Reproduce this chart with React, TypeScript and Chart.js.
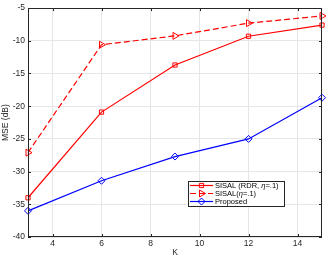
import React, { useEffect, useRef } from 'react';
import { Chart, registerables } from 'chart.js';
import { drawPoint } from 'chart.js/helpers';
Chart.register(...registerables);

const K = [3, 6, 9, 12, 15];
const rdr = [-34.0, -20.9, -13.7, -9.3, -7.6];
const sisal = [-27.1, -10.6, -9.25, -7.3, -6.2];
const proposed = [-36.0, -31.4, -27.7, -25.0, -18.7];
const xTicks = [4, 6, 8, 10, 12, 14];
const yTicks = [-40, -35, -30, -25, -20, -15, -10, -5];
const seriesNames = ['SISAL (RDR, ', 'SISAL(', 'Proposed'];
const etaSuffix = ['=.1)', '=.1)', ''];
const xTitle = 'K';
const yTitle = 'MSE (dB)';

const FONT = "'Liberation Sans', Arial, sans-serif";
const AX = '#262626';

export default function App() {
  const ref = useRef<HTMLCanvasElement | null>(null);
  useEffect(() => {
    document.body.style.margin = '0';
    const canvas = ref.current!;
    const overlay = {
      id: 'overlay',
      afterDraw(chart: any) {
        const ctx = chart.ctx as CanvasRenderingContext2D;
        const a = chart.chartArea;
        const xs = chart.scales.x;
        const ys = chart.scales.y;
        ctx.save();
        // box
        ctx.strokeStyle = AX;
        ctx.lineWidth = 1;
        ctx.strokeRect(Math.round(a.left) + 0.5, Math.round(a.top) + 0.5, Math.round(a.right - a.left) - 1, Math.round(a.bottom - a.top) - 1);
        ctx.beginPath();
        for (const v of xTicks) {
          const px = Math.round(xs.getPixelForValue(v)) + 0.5;
          ctx.moveTo(px, a.bottom); ctx.lineTo(px, a.bottom - 3);
          ctx.moveTo(px, a.top); ctx.lineTo(px, a.top + 3);
        }
        for (const v of yTicks) {
          const py = Math.round(ys.getPixelForValue(v)) + 0.5;
          ctx.moveTo(a.left, py); ctx.lineTo(a.left + 3, py);
          ctx.moveTo(a.right, py); ctx.lineTo(a.right - 3, py);
        }
        ctx.stroke();
        // titles
        ctx.fillStyle = AX;
        ctx.font = `8.5px ${FONT}`;
        ctx.textAlign = 'center';
        ctx.textBaseline = 'middle';
        ctx.fillText(xTitle, (a.left + a.right) / 2, 253);
        ctx.save();
        ctx.translate(6, (a.top + a.bottom) / 2);
        ctx.rotate(-Math.PI / 2);
        ctx.fillText(yTitle, 0, 0);
        ctx.restore();
        // legend
        const lx = 188, ly = 181, lw = 96, lh = 25;
        ctx.fillStyle = '#ffffff';
        ctx.fillRect(lx, ly, lw, lh);
        ctx.strokeStyle = AX;
        ctx.strokeRect(lx + 0.5, ly + 0.5, lw, lh);
        const rowsY = [185.5, 193.5, 201.5];
        chart.data.datasets.forEach((ds: any, i: number) => {
          const y = rowsY[i];
          ctx.strokeStyle = ds.borderColor;
          ctx.lineWidth = ds.borderWidth;
          ctx.setLineDash(ds.borderDash || []);
          ctx.beginPath();
          ctx.moveTo(lx + 2, y); ctx.lineTo(lx + 25, y);
          ctx.stroke();
          ctx.setLineDash([]);
          ctx.fillStyle = 'rgba(0,0,0,0)';
          ctx.strokeStyle = ds.pointBorderColor;
          ctx.lineWidth = 1;
          drawPoint(ctx, {
            pointStyle: ds.pointStyle, rotation: ds.pointRotation || 0,
            radius: ds.pointRadius, borderWidth: 1,
          } as any, lx + 13.5, y);
          ctx.fillStyle = '#000000';
          ctx.textAlign = 'left';
          ctx.textBaseline = 'middle';
          ctx.font = `7.5px ${FONT}`;
          let tx = lx + 27;
          ctx.fillText(seriesNames[i], tx, y);
          tx += ctx.measureText(seriesNames[i]).width;
          if (etaSuffix[i]) {
            ctx.font = `italic 7.5px ${FONT}`;
            ctx.fillText('η', tx, y);
            tx += ctx.measureText('η').width;
            ctx.font = `7.5px ${FONT}`;
            ctx.fillText(etaSuffix[i], tx, y);
          }
        });
        ctx.restore();
      },
    };
    const chart = new Chart(canvas, {
      type: 'line',
      data: {
        datasets: [
          {
            label: 'SISAL (RDR, η=.1)',
            data: K.map((k, i) => ({ x: k, y: rdr[i] })),
            borderColor: '#ff0000', backgroundColor: 'rgba(0,0,0,0)',
            borderWidth: 1.2, pointStyle: 'rect', pointRadius: 3, clip: false,
            pointBorderColor: '#ff0000', pointBackgroundColor: 'rgba(0,0,0,0)', pointBorderWidth: 1,
          },
          {
            label: 'SISAL(η=.1)',
            data: K.map((k, i) => ({ x: k, y: sisal[i] })),
            borderColor: '#ff0000', backgroundColor: 'rgba(0,0,0,0)', clip: false,
            borderWidth: 1.2, borderDash: [6, 3], pointStyle: 'triangle', pointRotation: 90, pointRadius: 4,
            pointBorderColor: '#ff0000', pointBackgroundColor: 'rgba(0,0,0,0)', pointBorderWidth: 1,
          },
          {
            label: 'Proposed',
            data: K.map((k, i) => ({ x: k, y: proposed[i] })),
            borderColor: '#0000ff', backgroundColor: 'rgba(0,0,0,0)', clip: false,
            borderWidth: 1.2, pointStyle: 'rectRot', pointRadius: 3.5,
            pointBorderColor: '#0000ff', pointBackgroundColor: 'rgba(0,0,0,0)', pointBorderWidth: 1,
          },
        ],
      },
      options: {
        responsive: false,
        animation: false,
        layout: { padding: { left: 0, top: 4, right: 5, bottom: 0 } },
        plugins: { legend: { display: false }, tooltip: { enabled: false } },
        scales: {
          x: {
            type: 'linear', min: 3, max: 15,
            afterBuildTicks: (s: any) => { s.ticks = xTicks.map((v) => ({ value: v })); },
            afterFit: (s: any) => { s.height = 22; },
            grid: { color: '#e6e6e6', lineWidth: 1, drawTicks: false },
            border: { display: false },
            ticks: { padding: 2, color: AX, font: { family: FONT, size: 8.5 }, maxRotation: 0, autoSkip: false },
          },
          y: {
            type: 'linear', min: -40, max: -5,
            afterBuildTicks: (s: any) => { s.ticks = yTicks.map((v) => ({ value: v })); },
            afterFit: (s: any) => { s.width = 28; },
            grid: { color: '#e6e6e6', lineWidth: 1, drawTicks: false },
            border: { display: false },
            ticks: { padding: 3, color: AX, font: { family: FONT, size: 8.5 }, autoSkip: false },
          },
        },
      },
      plugins: [overlay],
    });
    return () => chart.destroy();
  }, []);
  return (
    <div style={{ position: 'absolute', left: 0, top: 0, width: 327, height: 259, background: '#fff' }}>
      <canvas ref={ref} width={327} height={259} style={{ display: 'block', width: 327, height: 259 }} />
    </div>
  );
}
